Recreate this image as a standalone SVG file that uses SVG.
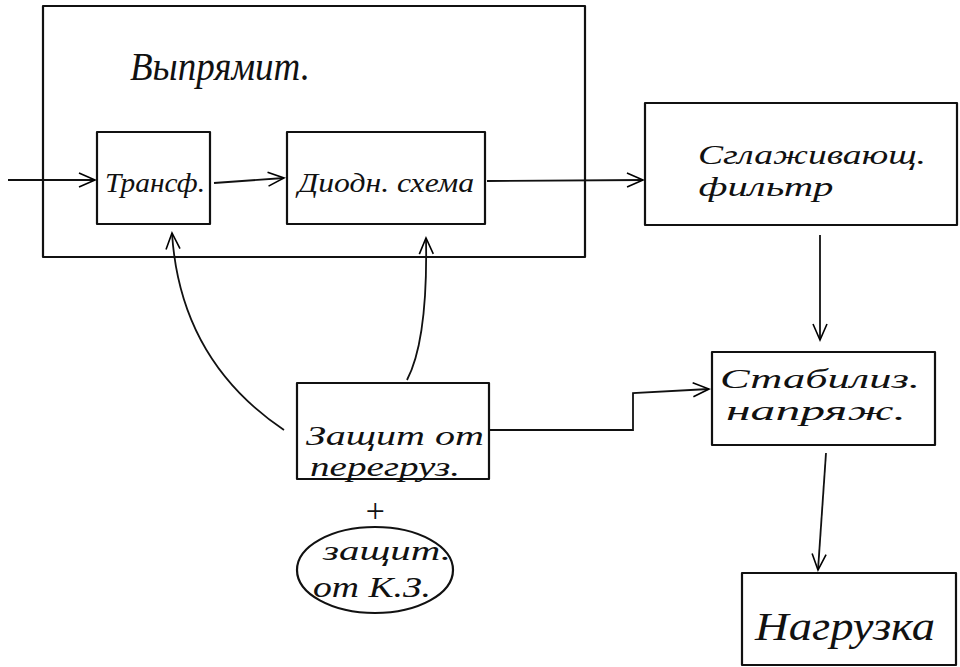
<svg xmlns="http://www.w3.org/2000/svg" width="960" height="667" viewBox="0 0 960 667">
<defs>
<marker id="arr" markerWidth="20" markerHeight="16" refX="18" refY="8" orient="auto" markerUnits="userSpaceOnUse">
<polyline points="2,1 18,8 2,15" fill="none" stroke="#000" stroke-width="1.6"/>
</marker>
<style>
.box{fill:none;stroke:#111;stroke-width:2.2;stroke-linejoin:round}
.ln{fill:none;stroke:#111;stroke-width:1.8}
.t{font-family:"Liberation Serif",serif;font-style:italic;fill:#111;text-anchor:middle}
</style>
</defs>
<rect width="960" height="667" fill="#fff"/>
<g id="rectifier">
<rect class="box" x="43" y="6" width="542" height="251"/>
<text class="t" x="220" y="80" font-size="40" textLength="180" lengthAdjust="spacingAndGlyphs">Выпрямит.</text>
</g>
<g id="transformer">
<rect class="box" x="97" y="132" width="113" height="92"/>
<text class="t" x="155" y="192" font-size="28" textLength="100" lengthAdjust="spacingAndGlyphs">Трансф.</text>
</g>
<g id="diode">
<rect class="box" x="287" y="132" width="198" height="92"/>
<text class="t" x="386" y="192" font-size="28" textLength="176" lengthAdjust="spacingAndGlyphs">Диодн. схема</text>
</g>
<g id="filter">
<rect class="box" x="645" y="103" width="312" height="122"/>
<text class="t" x="812" y="164" font-size="28" textLength="228" lengthAdjust="spacingAndGlyphs">Сглаживающ.</text>
<text class="t" x="766" y="196" font-size="28" textLength="135" lengthAdjust="spacingAndGlyphs">фильтр</text>
</g>
<g id="stabilizer">
<rect class="box" x="712" y="352" width="223" height="93"/>
<text class="t" x="820" y="388" font-size="28" textLength="200" lengthAdjust="spacingAndGlyphs">Стабилиз.</text>
<text class="t" x="816" y="420" font-size="28" textLength="180" lengthAdjust="spacingAndGlyphs">напряж.</text>
</g>
<g id="load">
<rect class="box" x="742" y="573" width="214" height="92"/>
<text class="t" x="845" y="640" font-size="40" textLength="180" lengthAdjust="spacingAndGlyphs">Нагрузка</text>
</g>
<g id="overload">
<rect class="box" x="297" y="383" width="192" height="96"/>
<text class="t" x="395" y="445" font-size="28" textLength="178" lengthAdjust="spacingAndGlyphs">Защит от</text>
<text class="t" x="385" y="476" font-size="28" textLength="150" lengthAdjust="spacingAndGlyphs">перегруз.</text>
<text class="t" x="375" y="522" font-size="34" font-style="normal">+</text>
</g>
<g id="shortcircuit">
<ellipse class="box" cx="375" cy="570" rx="78" ry="43"/>
<text class="t" x="387" y="560" font-size="28" textLength="128" lengthAdjust="spacingAndGlyphs">защит.</text>
<text class="t" x="372" y="597" font-size="30" textLength="118" lengthAdjust="spacingAndGlyphs">от К.З.</text>
</g>
<g id="connectors">
<line class="ln" x1="8" y1="180" x2="95" y2="180" marker-end="url(#arr)"/>
<line class="ln" x1="214" y1="183" x2="284" y2="178" marker-end="url(#arr)"/>
<line class="ln" x1="487" y1="181" x2="643" y2="180" marker-end="url(#arr)"/>
<line class="ln" x1="820" y1="235" x2="820" y2="340" marker-end="url(#arr)"/>
<path class="ln" d="M826,453 L818,570" marker-end="url(#arr)"/>
<path class="ln" d="M489,430 L633,430 L633,393 L709,389" marker-end="url(#arr)"/>
<path class="ln" d="M284,430 Q180,360 172,233" marker-end="url(#arr)"/>
<path class="ln" d="M407,380 Q428,340 426,238" marker-end="url(#arr)"/>
</g>
</svg>
